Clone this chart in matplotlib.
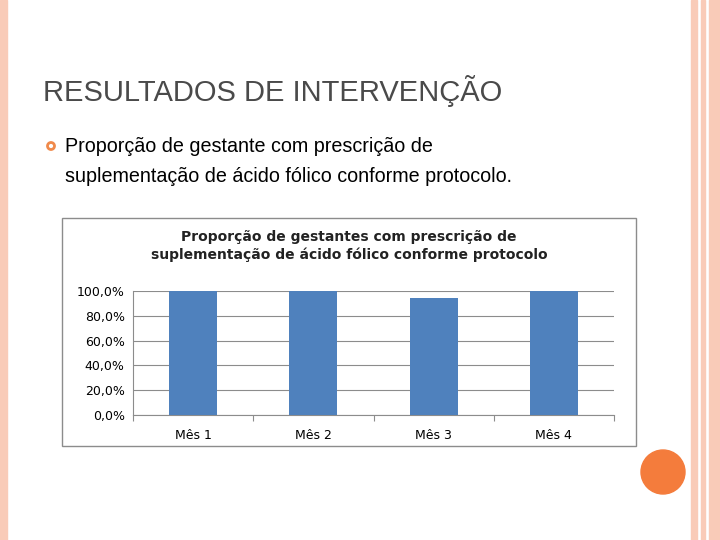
"""
Slide: resultados de intervenção - ácido fólico.
"""

import matplotlib
matplotlib.use('Agg')
import matplotlib.pyplot as plt
from matplotlib.patches import Rectangle, Ellipse
from matplotlib.ticker import FuncFormatter

meses = ['Mês 1', 'Mês 2', 'Mês 3', 'Mês 4']
proporcao = [100.0, 100.0, 94.4, 100.0]
yticks = [0, 20, 40, 60, 80, 100]

W, H = 720, 540


def fx(px):
    return px / W


def fy(py):
    return 1 - py / H


def dot(cx, cy, d, **kw):
    # circle in pixel units, drawn in figure coords
    return Ellipse((fx(cx), fy(cy)), d / W, d / H, transform=fig.transFigure, **kw)


fig = plt.figure(figsize=(7.2, 5.4), dpi=100)
fig.patch.set_facecolor('white')

# slide decorations
fig.patches.append(Rectangle((0, 0), fx(7), 1, transform=fig.transFigure, color='#f9cbb8', zorder=0))
fig.patches.append(Rectangle((fx(691), 0), fx(6), 1, transform=fig.transFigure, color='#f9cbb8', zorder=0))
fig.patches.append(Rectangle((fx(701), 0), fx(4), 1, transform=fig.transFigure, color='#f9cbb8', zorder=0))
fig.patches.append(Rectangle((fx(709), 0), fx(11), 1, transform=fig.transFigure, color='#f9cbb8', zorder=0))
fig.patches.append(dot(663, 472, 44, color='#f47c3c', zorder=1))

fig.text(fx(43), fy(91), 'RESULTADOS DE INTERVENÇÃO', fontsize=21, color='#4a4a4a',
         family='Liberation Sans', va='center')
fig.patches.append(dot(51, 146, 7, facecolor='white', edgecolor='#f08a4b', lw=2))
fig.text(fx(65), fy(146), 'Proporção de gestante com prescrição de', fontsize=14.2,
         family='Liberation Sans', va='center')
fig.text(fx(65), fy(177), 'suplementação de ácido fólico conforme protocolo.', fontsize=14.2,
         family='Liberation Sans', va='center')

# chart frame
fig.patches.append(Rectangle((fx(62), fy(446)), fx(574), fy(218) - fy(446), transform=fig.transFigure,
                             facecolor='white', edgecolor='#8c8c8c', lw=1, zorder=1))
fig.text(fx(349), fy(237), 'Proporção de gestantes com prescrição de', fontsize=10, weight='bold',
         ha='center', va='center', color='#222222')
fig.text(fx(349), fy(255), 'suplementação de ácido fólico conforme protocolo', fontsize=10, weight='bold',
         ha='center', va='center', color='#222222')

ax = fig.add_axes([fx(133), fy(415), fx(614 - 133), fy(291) - fy(415)], zorder=2)
ax.patch.set_alpha(0)
x = range(len(meses))
ax.bar(x, proporcao, width=0.4, color='#4f81bd', zorder=3)
ax.set_xlim(-0.5, 3.5)
ax.set_ylim(0, 100)
ax.set_yticks(yticks)
ax.yaxis.set_major_formatter(FuncFormatter(lambda v, p: f'{v:.1f}%'.replace('.', ',')))
ax.grid(axis='y', color='#8c8c8c', lw=0.8, zorder=0)
ax.set_xticks([-0.5, 0.5, 1.5, 2.5, 3.5], minor=False)
ax.set_xticklabels([])
ax.set_xticks(list(x), minor=True)
ax.set_xticklabels(meses, minor=True)
ax.tick_params(axis='x', which='minor', length=0, labelsize=9, pad=10)
ax.tick_params(axis='x', which='major', length=4, color='#8c8c8c', direction='out')
ax.tick_params(axis='y', length=0, labelsize=9, pad=6)
for s in ['top', 'right']:
    ax.spines[s].set_visible(False)
ax.spines['left'].set_color('#8c8c8c')
ax.spines['bottom'].set_color('#8c8c8c')

fig.savefig('out.png', dpi=100)
